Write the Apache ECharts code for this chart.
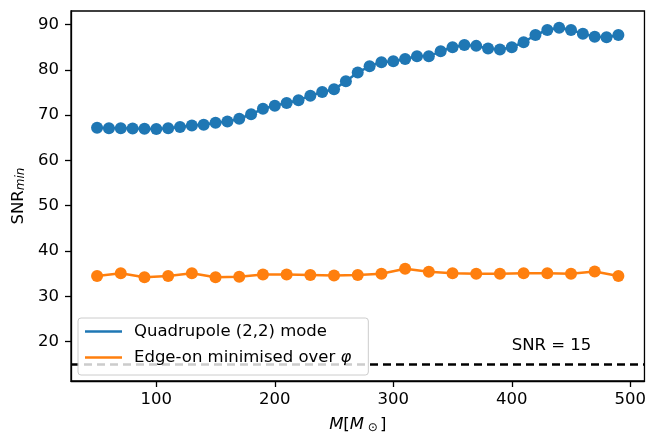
<!DOCTYPE html>
<html>
<head>
<meta charset="utf-8">
<script src="https://cdn.jsdelivr.net/npm/echarts@6/dist/echarts.min.js"></script>
<style>
  html, body { margin: 0; padding: 0; background: #fff; }
  #chart { width: 649px; height: 439px; }
</style>
</head>
<body>
<div id="chart"></div>
<script>
// Total mass M (solar masses) for the quadrupole-mode curve
var massQuad = [50, 60, 70, 80, 90, 100, 110, 120, 130, 140, 150, 160, 170, 180, 190,
  200, 210, 220, 230, 240, 250, 260, 270, 280, 290, 300, 310, 320, 330, 340,
  350, 360, 370, 380, 390, 400, 410, 420, 430, 440, 450, 460, 470, 480, 490];
// Minimum SNR for the (2,2) quadrupole mode
var snrQuad = [67.2, 67.1, 67.1, 67.05, 67.0, 66.95, 67.1, 67.4, 67.7, 67.9, 68.3, 68.6, 69.2, 70.2, 71.4,
  72.1, 72.7, 73.3, 74.3, 75.1, 75.7, 77.5, 79.4, 80.8, 81.7, 81.9, 82.4, 83.0, 83.0, 84.1,
  85.0, 85.5, 85.3, 84.7, 84.5, 85.0, 86.1, 87.7, 88.8, 89.3, 88.8, 88.0, 87.3, 87.2, 87.7];
// Total mass M for the edge-on curve
var massEdge = [50, 70, 90, 110, 130, 150, 170, 190, 210, 230, 250, 270,
  290, 310, 330, 350, 370, 390, 410, 430, 450, 470, 490];
// Minimum SNR for edge-on binaries, minimised over phi
var snrEdge = [34.5, 35.1, 34.2, 34.5, 35.1, 34.2, 34.3, 34.8, 34.8, 34.7, 34.6, 34.7,
  35.0, 36.1, 35.4, 35.1, 35.0, 35.0, 35.1, 35.1, 35.0, 35.5, 34.5];
// Detection threshold
var snrThreshold = 15;
// Axis tick values
var xTicks = [100, 200, 300, 400, 500];
var yTicks = [20, 30, 40, 50, 60, 70, 80, 90];
var seriesNames = ['Quadrupole (2,2) mode', 'Edge-on minimised over φ'];

function pairs(xs, ys) {
  return xs.map(function (x, i) { return [x, ys[i]]; });
}

var FONT = 'DejaVu Sans';
var FS = 16.5;

var chart = echarts.init(document.getElementById('chart'), null, { renderer: 'canvas' });

chart.setOption({
  animation: false,
  backgroundColor: '#ffffff',
  textStyle: { fontFamily: FONT },
  grid: {
    left: 71, right: 3, top: 11, bottom: 55,
    show: true, borderColor: '#000', borderWidth: 1.3, backgroundColor: 'transparent'
  },
  legend: {
    orient: 'vertical',
    left: 78, top: 318,
    z: 20,
    padding: [5, 17, 9, 7],
    itemGap: 9,
    itemWidth: 37, itemHeight: 2.5,
    icon: 'rect',
    backgroundColor: 'rgba(255,255,255,0.8)',
    borderColor: '#cccccc', borderWidth: 1, borderRadius: 3,
    data: seriesNames,
    formatter: function (name) {
      return name.replace('φ', '{it|φ}');
    },
    textStyle: {
      fontFamily: FONT, fontSize: FS, color: '#000', padding: [0, 0, 0, 7],
      rich: { it: { fontFamily: FONT, fontSize: FS, fontStyle: 'italic', color: '#000' } }
    }
  },
  xAxis: {
    type: 'value', min: 28, max: 512,
    name: '{i|M}[{i|M}{s| ⊙}]',
    nameLocation: 'middle', nameGap: 35,
    nameTextStyle: {
      fontFamily: FONT, fontSize: FS, color: '#000',
      rich: {
        i: { fontFamily: FONT, fontSize: FS, fontStyle: 'italic', color: '#000' },
        s: { fontFamily: FONT, fontSize: 12, color: '#000', verticalAlign: 'bottom', padding: [6, 2, 0, 0] }
      }
    },
    axisLine: { show: true, lineStyle: { color: '#000', width: 1.3 } },
    axisTick: { show: true, customValues: xTicks, length: 6, lineStyle: { color: '#000', width: 1.3 } },
    axisLabel: { customValues: xTicks, margin: 10, fontFamily: FONT, fontSize: FS, color: '#000' },
    splitLine: { show: false }
  },
  yAxis: {
    type: 'value', min: 11.3, max: 93,
    name: 'SNR{sub|min}',
    nameLocation: 'middle', nameGap: 43, nameRotate: 90,
    nameTextStyle: {
      fontFamily: FONT, fontSize: FS, color: '#000',
      rich: { sub: { fontFamily: FONT, fontSize: 12, fontStyle: 'italic', color: '#000', verticalAlign: 'bottom', padding: [4, 0, 0, 0] } }
    },
    axisLine: { show: true, lineStyle: { color: '#000', width: 1.3 } },
    axisTick: { show: true, customValues: yTicks, length: 6, lineStyle: { color: '#000', width: 1.3 } },
    axisLabel: { customValues: yTicks, margin: 12, fontFamily: FONT, fontSize: FS, color: '#000' },
    splitLine: { show: false }
  },
  series: [
    {
      name: seriesNames[0],
      type: 'line',
      data: pairs(massQuad, snrQuad),
      color: '#1f77b4',
      symbol: 'circle', symbolSize: 12,
      lineStyle: { width: 2.5, color: '#1f77b4' },
      itemStyle: { color: '#1f77b4' },
      z: 3
    },
    {
      name: seriesNames[1],
      type: 'line',
      data: pairs(massEdge, snrEdge),
      color: '#ff7f0e',
      symbol: 'circle', symbolSize: 12,
      lineStyle: { width: 2.5, color: '#ff7f0e' },
      itemStyle: { color: '#ff7f0e' },
      z: 3,
      markLine: {
        silent: true,
        z: 2,
        symbol: ['none', 'none'],
        label: { show: false },
        lineStyle: { color: '#000', type: [8, 5], width: 2.5 },
        data: [{ yAxis: snrThreshold }]
      },
      markPoint: {
        silent: true,
        symbol: 'circle', symbolSize: 0,
        data: [{ coord: [400, 18] }],
        label: {
          show: true, position: 'inside', align: 'left', verticalAlign: 'bottom',
          offset: [0, 4],
          formatter: 'SNR = ' + snrThreshold,
          fontFamily: FONT, fontSize: FS, color: '#000'
        }
      }
    }
  ]
});
</script>
</body>
</html>
